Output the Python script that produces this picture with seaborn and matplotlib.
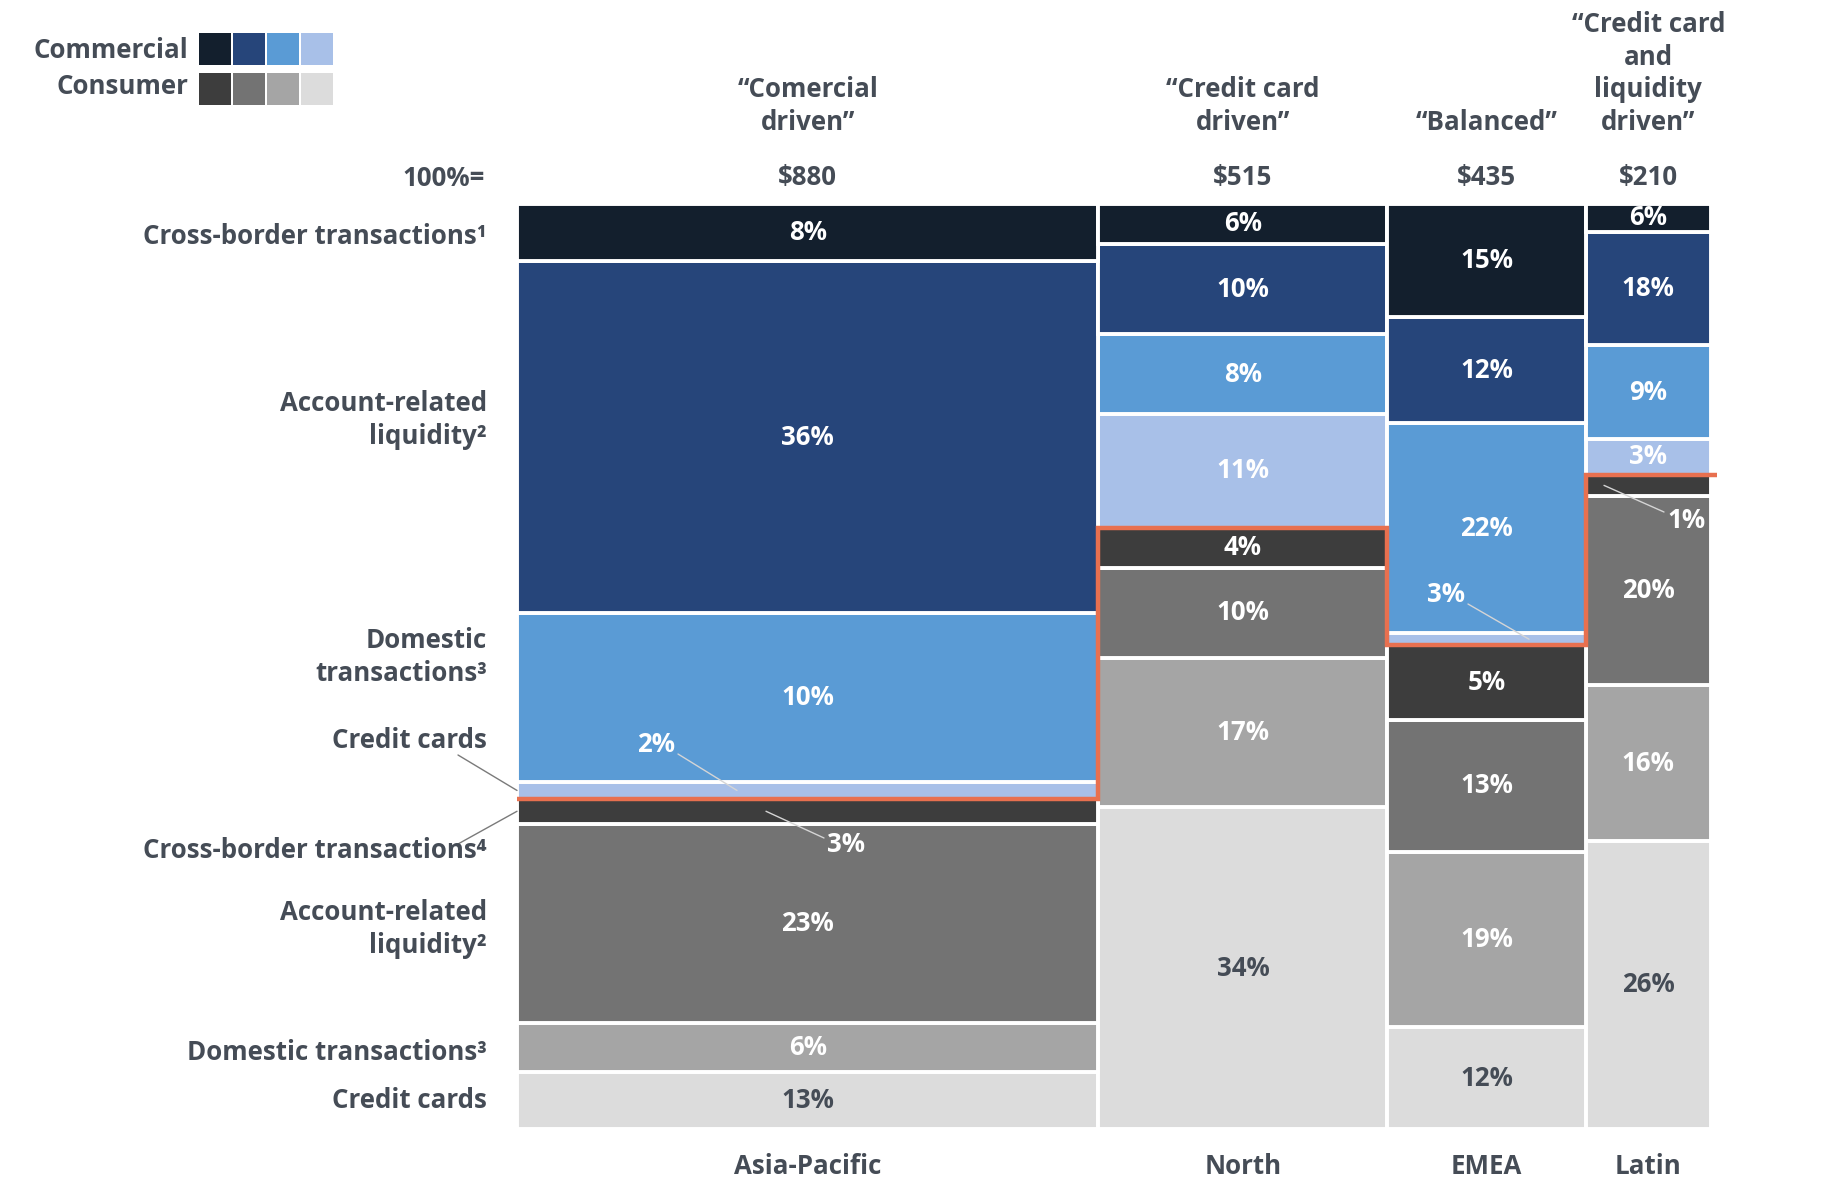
import numpy as np
import pandas as pd
import matplotlib
matplotlib.use("Agg")
import matplotlib.pyplot as plt
import seaborn as sns
from matplotlib.patches import Rectangle
from matplotlib.lines import Line2D

# ---------------- data ----------------
regions = ["Asia-Pacific", "North", "EMEA", "Latin"]
totals = ["$880", "$515", "$435", "$210"]
archetypes = ["\u201cComercial\ndriven\u201d", "\u201cCredit card\ndriven\u201d",
              "\u201cBalanced\u201d", "\u201cCredit card\nand\nliquidity\ndriven\u201d"]
col_width = [48.7, 24.2, 16.6, 10.5]          # column width share (%)

segments = ["Com cross-border", "Com account liquidity", "Com domestic", "Com credit cards",
            "Con cross-border", "Con account liquidity", "Con domestic", "Con credit cards"]
row_labels = ["Cross-border transactions\u00b9", "Account-related\nliquidity\u00b2",
              "Domestic\ntransactions\u00b3", "Credit cards",
              "Cross-border transactions\u2074", "Account-related\nliquidity\u00b2",
              "Domestic transactions\u00b3", "Credit cards"]

# segment heights (top to bottom)
asia_share = [6.2, 38.0, 18.3, 1.8, 2.7, 21.5, 5.3, 6.2]
north_share = [4.3, 9.8, 8.6, 12.3, 4.3, 9.8, 16.1, 34.8]
emea_share = [12.2, 11.5, 22.7, 1.3, 8.1, 14.2, 19.0, 11.0]
latin_share = [3.0, 12.3, 10.1, 3.9, 2.3, 20.5, 16.8, 31.2]

asia_labels = ["8%", "36%", "10%", "2%", "3%", "23%", "6%", "13%"]
north_labels = ["6%", "10%", "8%", "11%", "4%", "10%", "17%", "34%"]
emea_labels = ["15%", "12%", "22%", "3%", "5%", "13%", "19%", "12%"]
latin_labels = ["6%", "18%", "9%", "3%", "1%", "20%", "16%", "26%"]

colors = ["#131F2D", "#26457A", "#5A9BD5", "#A8C0E8",
          "#3D3D3D", "#737373", "#A5A5A5", "#DCDCDC"]

shares = [asia_share, north_share, emea_share, latin_share]
labels = [asia_labels, north_labels, emea_labels, latin_labels]

# ---------------- style ----------------
sns.set_theme(style="white")
plt.rcParams["font.family"] = ["Open Sans", "DejaVu Sans"]
TXT = "#454C56"
ORANGE = "#E8704F"
FS_OUT = 18.6
FS_IN = 18.6
FW = "bold"

W, H = 1833, 1184
fig = plt.figure(figsize=(W / 100, H / 100), dpi=100)
X0, X1, Y0, Y1 = 517, 1711, 204, 1129   # plot area in pixels (top-left origin)
ax = fig.add_axes([X0 / W, 1 - Y1 / H, (X1 - X0) / W, (Y1 - Y0) / H])

edges = [0.0] + [float(v) for v in np.cumsum(col_width)]
centers = [(edges[i] + edges[i + 1]) / 2 for i in range(4)]

rows = []
for ci, reg in enumerate(regions):
    for si, seg in enumerate(segments):
        rows.append({"region": reg, "x": centers[ci], "segment": seg, "share": shares[ci][si]})
df = pd.DataFrame(rows)

sns.histplot(data=df, x="x", weights="share", hue="segment", hue_order=segments,
             bins=edges, multiple="fill", palette=dict(zip(segments, colors)),
             edgecolor="white", linewidth=2.8, alpha=1, legend=False, ax=ax)
ax.set_xlim(0, 100)
ax.set_ylim(0, 1)
ax.axis("off")


def fx(px):
    return px / W


def fy(py):
    return 1 - py / H


def data_x_px(x):
    return X0 + x / 100 * (X1 - X0)


def data_y_px(y):
    return Y1 - y * (Y1 - Y0)


# segment centres (fraction, from bottom)
seg_center = []
for ci in range(4):
    s = np.array(shares[ci], dtype=float)
    s = s / s.sum()
    top = 1 - np.concatenate([[0], np.cumsum(s)[:-1]])
    seg_center.append(top - s / 2)

# orange commercial / consumer boundary
bnd = [1 - np.sum(np.array(shares[ci][:4]) / np.sum(shares[ci])) for ci in range(4)]
xs, ys = [], []
for ci in range(4):
    xs += [edges[ci], edges[ci + 1]]
    ys += [bnd[ci], bnd[ci]]
xs[-1] += 0.5
ax.plot(xs, ys, color=ORANGE, lw=3.2, clip_on=False, solid_joinstyle="miter",
        solid_capstyle="butt", zorder=5)

# inner labels
special = {
    (0, 3): ((656, 745), (678, 754), 737),
    (0, 4): ((846, 845), (824, 838), 766),
    (2, 3): ((1446, 595), (1468, 604), 1529),
    (3, 4): ((1687, 521), (1664, 512), 1604),
}
for ci in range(4):
    for si in range(8):
        yc = seg_center[ci][si]
        col = TXT if si == 7 else "white"
        if (ci, si) in special:
            (tx, ty), (lx, ly), tgt_x = special[(ci, si)]
            fig.text(fx(tx), fy(ty), labels[ci][si], color=col, fontsize=FS_IN,
                     fontweight=FW, ha="center", va="center")
            fig.add_artist(Line2D([fx(lx), fx(tgt_x)], [fy(ly), fy(data_y_px(yc))],
                                  color="#D5D5D5", lw=1.0))
        else:
            fig.text(fx(data_x_px(centers[ci])), fy(data_y_px(yc)), labels[ci][si],
                     color=col, fontsize=FS_IN, fontweight=FW,
                     ha="center", va="center")

# left row labels
row_y = [237, 420, 657, 740, 851, 929, 1053, 1101]
for lab, py in zip(row_labels, row_y):
    fig.text(fx(487), fy(py), lab, color=TXT, fontsize=FS_OUT, fontweight=FW,
             ha="right", va="center", multialignment="right", linespacing=1.25)
fig.add_artist(Line2D([fx(458), fx(X0)], [fy(755), fy(data_y_px(seg_center[0][3]))],
                      color="#7A7A7A", lw=1.0))
fig.add_artist(Line2D([fx(458), fx(X0)], [fy(844), fy(data_y_px(seg_center[0][4]))],
                      color="#7A7A7A", lw=1.0))

# headers
fig.text(fx(485), fy(178), "100%=", color=TXT, fontsize=FS_OUT, fontweight=FW,
         ha="right", va="center")
for ci in range(4):
    cx = fx(data_x_px(centers[ci]))
    fig.text(cx, fy(178), totals[ci], color=TXT, fontsize=FS_OUT, fontweight=FW,
             ha="center", va="center")
    fig.text(cx, fy(136), archetypes[ci], color=TXT, fontsize=FS_OUT, fontweight=FW,
             ha="center", va="bottom", multialignment="center", linespacing=1.27)
    fig.text(cx, fy(1167), regions[ci], color=TXT, fontsize=FS_OUT, fontweight=FW,
             ha="center", va="center")

# legend
fig.text(fx(188), fy(50), "Commercial", color=TXT, fontsize=FS_OUT, fontweight=FW,
         ha="right", va="center")
fig.text(fx(188), fy(87), "Consumer", color=TXT, fontsize=FS_OUT, fontweight=FW,
         ha="right", va="center")
for i in range(4):
    for r, ytop in enumerate([33, 73]):
        x = 199 + i * 34
        fig.add_artist(Rectangle((fx(x), fy(ytop + 32)), 32 / W, 32 / H,
                                 facecolor=colors[r * 4 + i], edgecolor="none",
                                 transform=fig.transFigure))

fig.savefig("out.png", dpi=100)
